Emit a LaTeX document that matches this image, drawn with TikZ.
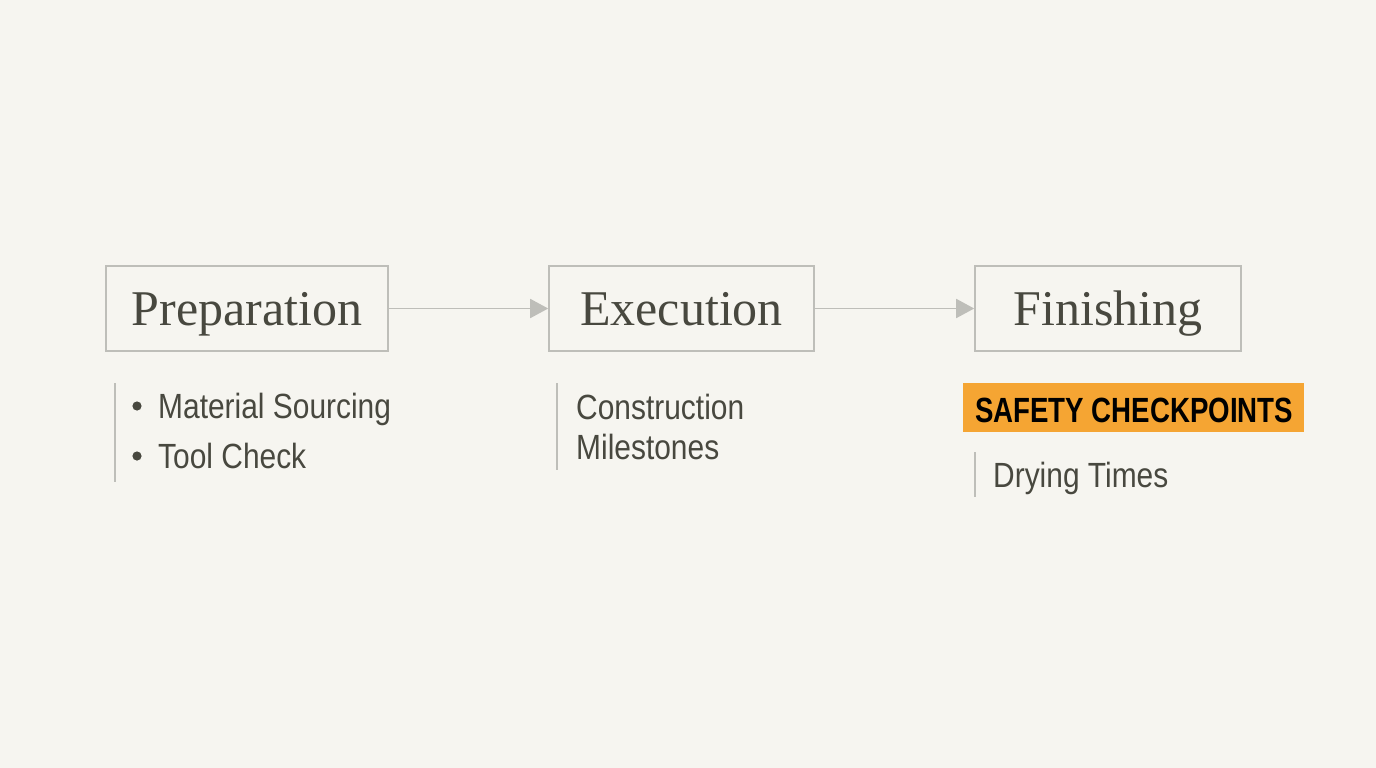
\documentclass[tikz,border=0pt]{standalone}
\usepackage{fontspec}
\setmainfont{Liberation Serif}
\newfontfamily\condfont[FakeStretch=0.855]{Liberation Sans}
\newfontfamily\condbold[FakeStretch=0.79]{Liberation Sans Bold}
\usetikzlibrary{arrows.meta}
\definecolor{bg}{HTML}{F6F5F0}
\definecolor{boxline}{HTML}{BEBEB9}
\definecolor{txt}{HTML}{48483F}
\definecolor{orng}{HTML}{F5A533}
\begin{document}
\begin{tikzpicture}[x=1pt,y=-1pt,
  stage/.style={draw=boxline, line width=1.6pt, minimum height=85pt, inner sep=0pt,
    text height=33pt, text depth=0pt,
    text=txt, font=\fontsize{50}{58}\selectfont},
  flow/.style={draw=boxline, line width=1.8pt, -{Triangle[length=18pt,width=19pt]}},
  item/.style={anchor=base west, inner sep=0pt, text=txt, font=\condfont\fontsize{35}{40}\selectfont},
  rule/.style={draw=boxline, line width=1.4pt}
]
\fill[bg] (0,0) rectangle (1376,768);
\useasboundingbox (0,0) rectangle (1376,768);

\node[stage, minimum width=282pt] (prep) at (247,308.5) {Preparation};
\node[stage, minimum width=265pt] (exec) at (681.5,308.5) {Execution};
\node[stage, minimum width=266pt] (fin) at (1108,308.5) {Finishing};

\draw[flow] (prep.east) -- (exec.west);
\draw[flow] (exec.east) -- (fin.west);

% Preparation list
\coordinate (r1a) at (115,383); \coordinate (r1b) at (115,482);
\draw[rule] (r1a) -- (r1b);
\fill[txt] (137,406) circle (4.6pt);
\fill[txt] (137,456) circle (4.6pt);
\node[item] (ms) at (158,418) {Material Sourcing};
\node[item] (tc) at (158,468) {Tool Check};

% Execution list
\coordinate (r2a) at (557,383); \coordinate (r2b) at (557,470);
\draw[rule] (r2a) -- (r2b);
\node[item] (co) at (576,419) {Construction};
\node[item] (mi) at (576,459) {Milestones};

% Finishing list
\fill[orng] (963,383) rectangle (1304,432);
\node[anchor=base west, inner sep=0pt, text=black, font=\condbold\fontsize{35}{40}\selectfont] (sc) at (975,422) {SAFETY CHECKPOINTS};
\coordinate (r3a) at (975,452); \coordinate (r3b) at (975,497);
\draw[rule] (r3a) -- (r3b);
\node[item] (dt) at (993,487) {Drying Times};
\end{tikzpicture}
\end{document}
